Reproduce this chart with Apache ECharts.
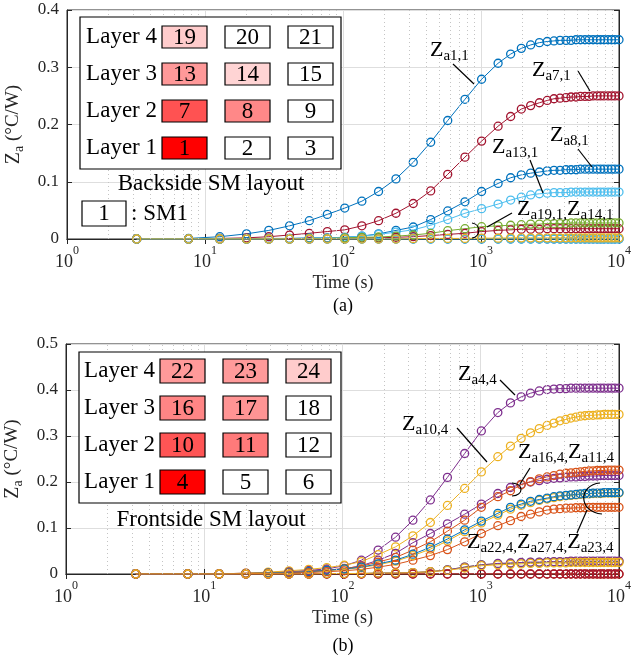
<!DOCTYPE html>
<html>
<head>
<meta charset="utf-8">
<script src="https://cdn.jsdelivr.net/npm/echarts@6/dist/echarts.min.js"></script>
<style>
html, body { margin: 0; padding: 0; background: #fff; }
#dom { width: 631px; height: 662px; }
</style>
</head>
<body>
<div id="dom"></div>
<script>
// sample times (s)
var time = [3.2, 7.6, 12.8, 20, 29, 41, 57, 77, 103, 137, 181, 242, 323, 432, 574, 765, 1010,
  1330, 1640, 1960, 2290, 2650, 3020, 3380, 3740, 4130, 4490, 4880, 5260, 5670, 6070, 6490,
  6940, 7350, 7790, 8330, 8830, 9350, 10000];

// (a) backside SM1 heated
var za1_1 = [0, 0.001, 0.004, 0.009, 0.015, 0.023, 0.032, 0.043, 0.054, 0.066, 0.083, 0.105, 0.134, 0.169, 0.207, 0.244, 0.279,
  0.307, 0.323, 0.333, 0.339, 0.343, 0.345, 0.346, 0.347, 0.347, 0.347,
  0.348, 0.348, 0.348, 0.348, 0.348, 0.348, 0.348, 0.348, 0.348, 0.348, 0.348, 0.348];
var za7_1 = [0, 0, 0.001, 0.002, 0.004, 0.007, 0.010, 0.013, 0.016, 0.023, 0.032, 0.045, 0.062, 0.084, 0.113, 0.143, 0.171,
  0.197, 0.214, 0.227, 0.233, 0.238, 0.242, 0.245, 0.246, 0.247, 0.248, 0.248, 0.249, 0.249, 0.249,
  0.250, 0.250, 0.250, 0.250, 0.250, 0.250, 0.250, 0.250];
var za8_1 = [0, 0, 0, 0, 0.001, 0.001, 0.002, 0.002, 0.003, 0.005, 0.009, 0.015, 0.021, 0.034, 0.049, 0.065, 0.083,
  0.097, 0.107, 0.112, 0.115, 0.117, 0.119, 0.120, 0.120, 0.121, 0.121, 0.121,
  0.122, 0.122, 0.122, 0.122, 0.122, 0.122, 0.122, 0.122, 0.122, 0.122, 0.122];
var za13_1 = [0, 0, 0, 0, 0, 0.001, 0.001, 0.002, 0.003, 0.005, 0.008, 0.012, 0.016, 0.024, 0.034, 0.045, 0.053,
  0.061, 0.068, 0.073, 0.077, 0.079, 0.080, 0.081, 0.081, 0.081,
  0.082, 0.082, 0.082, 0.082, 0.082, 0.082, 0.082, 0.082, 0.082, 0.082, 0.082, 0.082, 0.082];
var za14_1 = [0, 0, 0, 0, 0, 0, 0, 0.001, 0.001, 0.002, 0.002, 0.003, 0.004, 0.006, 0.008, 0.010, 0.013,
  0.015, 0.016, 0.017, 0.017, 0.017, 0.018, 0.018, 0.018, 0.018, 0.018, 0.018, 0.018, 0.018, 0.018,
  0.018, 0.018, 0.018, 0.018, 0.018, 0.018, 0.018, 0.018];
var za19_1 = [0, 0, 0, 0, 0, 0, 0.001, 0.001, 0.002, 0.003, 0.0035, 0.005, 0.007, 0.010, 0.0145, 0.018, 0.0215,
  0.023, 0.024, 0.025, 0.026, 0.026, 0.027, 0.027, 0.027, 0.027,
  0.028, 0.028, 0.028, 0.028, 0.028, 0.028, 0.028, 0.028, 0.028, 0.028, 0.028, 0.028, 0.028];
var za24_1 = [0, 0, 0, 0, 0, 0, 0, 0, 0, 0, 0, 0, 0.0005, 0.001, 0.001, 0.001, 0.0015,
  0.0015, 0.002, 0.002, 0.002, 0.002, 0.002, 0.002, 0.002, 0.002, 0.002, 0.002, 0.002, 0.002, 0.002,
  0.002, 0.002, 0.002, 0.002, 0.002, 0.002, 0.002, 0.002];
var flat = [0, 0, 0, 0, 0, 0, 0, 0, 0, 0, 0, 0, 0, 0, 0, 0, 0, 0, 0, 0,
  0, 0, 0, 0, 0, 0, 0, 0, 0, 0, 0, 0, 0, 0, 0, 0, 0, 0, 0];

// (b) frontside SM4 heated
var za4_4 = [0, 0, 0, 0.002, 0.003, 0.005, 0.008, 0.011, 0.018, 0.030, 0.052, 0.080, 0.117, 0.161, 0.210, 0.262, 0.311,
  0.351, 0.372, 0.385, 0.393, 0.398, 0.401, 0.402, 0.403, 0.403,
  0.404, 0.404, 0.404, 0.404, 0.404, 0.404, 0.404, 0.404, 0.404, 0.404, 0.404, 0.404, 0.404];
var za10_4 = [0, 0, 0, 0.002, 0.004, 0.007, 0.010, 0.014, 0.019, 0.027, 0.042, 0.059, 0.083, 0.112, 0.149, 0.186, 0.222,
  0.255, 0.278, 0.295, 0.307, 0.316, 0.323, 0.328, 0.333, 0.336, 0.339, 0.341, 0.343, 0.344, 0.345, 0.345, 0.346, 0.346,
  0.347, 0.347, 0.347, 0.347, 0.347];
var za11_4 = [0, 0, 0, 0.001, 0.002, 0.004, 0.006, 0.009, 0.011, 0.018, 0.030, 0.045, 0.068, 0.088, 0.109, 0.130, 0.152,
  0.175, 0.188, 0.195, 0.200, 0.203, 0.206, 0.208, 0.209, 0.210, 0.211, 0.211, 0.212, 0.212, 0.213, 0.213, 0.213,
  0.214, 0.214, 0.214, 0.214, 0.214, 0.214];
var za12_4 = [0, 0, 0, 0, 0, 0, 0, 0.001, 0.001, 0.001, 0.002, 0.002, 0.003, 0.005, 0.009, 0.015, 0.020,
  0.022, 0.023, 0.024, 0.025, 0.025, 0.026, 0.026, 0.026, 0.026,
  0.027, 0.027, 0.027, 0.027, 0.027, 0.027, 0.027, 0.027, 0.027, 0.027, 0.027, 0.027, 0.027];
var za16_4 = [0, 0, 0, 0.001, 0.002, 0.003, 0.005, 0.008, 0.012, 0.017, 0.026, 0.036, 0.052, 0.070, 0.093, 0.117, 0.145,
  0.168, 0.181, 0.194, 0.201, 0.207, 0.211, 0.214, 0.217, 0.219, 0.220, 0.221, 0.222, 0.223, 0.224, 0.224,
  0.225, 0.225, 0.225, 0.226, 0.226, 0.226, 0.226];
var za17_4 = [0, 0, 0, 0.001, 0.002, 0.003, 0.005, 0.007, 0.010, 0.014, 0.020, 0.028, 0.040, 0.054, 0.072, 0.092, 0.111,
  0.128, 0.141, 0.149, 0.155, 0.160, 0.163, 0.166, 0.168, 0.170, 0.171, 0.172, 0.173, 0.174, 0.174, 0.175,
  0.175, 0.175, 0.176, 0.176, 0.176, 0.176, 0.176];
var za18_4 = [0, 0, 0, 0, 0, 0, 0, 0.001, 0.001, 0.001, 0.002, 0.002, 0.003, 0.005, 0.009, 0.015, 0.020,
  0.023, 0.024, 0.025, 0.026, 0.026, 0.027, 0.027, 0.027, 0.027,
  0.028, 0.028, 0.028, 0.028, 0.028, 0.028, 0.028, 0.028, 0.028, 0.028, 0.028, 0.028, 0.028];
var za22_4 = [0, 0, 0, 0.001, 0.002, 0.003, 0.005, 0.008, 0.011, 0.015, 0.022, 0.030, 0.043, 0.058, 0.076, 0.096, 0.115,
  0.132, 0.145, 0.152, 0.158, 0.162, 0.165, 0.168, 0.170, 0.171, 0.172, 0.173, 0.174, 0.175, 0.175, 0.176,
  0.176, 0.176, 0.177, 0.177, 0.177, 0.177, 0.177];
var za23_4 = [0, 0, 0, 0.001, 0.001, 0.002, 0.003, 0.005, 0.007, 0.010, 0.015, 0.021, 0.030, 0.040, 0.053, 0.070, 0.088,
  0.105, 0.116, 0.125, 0.130, 0.135, 0.139, 0.141, 0.142, 0.143, 0.143, 0.144, 0.144, 0.144,
  0.145, 0.145, 0.145, 0.145, 0.145, 0.145, 0.145, 0.145, 0.145];
var za24_4 = [0, 0, 0, 0, 0, 0, 0, 0.001, 0.001, 0.001, 0.002, 0.002, 0.003, 0.005, 0.008, 0.013, 0.018,
  0.020, 0.021, 0.022, 0.023, 0.023, 0.024, 0.024, 0.024, 0.024,
  0.025, 0.025, 0.025, 0.025, 0.025, 0.025, 0.025, 0.025, 0.025, 0.025, 0.025, 0.025, 0.025];

// SM layout insets
var layers = ["Layer 4", "Layer 3", "Layer 2", "Layer 1"];
var backCells = [[19, 20, 21], [13, 14, 15], [7, 8, 9], [1, 2, 3]];
var backShade = [["#FFCCCC", "#fff", "#fff"], ["#FF9999", "#FFD4D4", "#fff"], ["#FF5252", "#FF8888", "#fff"], ["#FF0000", "#fff", "#fff"]];
var frontCells = [[22, 23, 24], [16, 17, 18], [10, 11, 12], [4, 5, 6]];
var frontShade = [["#FF9A9A", "#FF9A9A", "#FFCCCC"], ["#FF8585", "#FF9494", "#fff"], ["#FF5555", "#FF7A7A", "#fff"], ["#FF0000", "#fff", "#fff"]];

var F = "Liberation Serif";
var INK = "#262626";
var C = { blue: "#0072BD", orange: "#D95319", yellow: "#EDB120", purple: "#7E2F8E", green: "#77AC30", cyan: "#4DBEEE", wine: "#A2142F" };

// minor log grid positions
var minorX = [];
[1, 10, 100, 1000].forEach(function (d) {
  for (var k = 2; k <= 9; k++) minorX.push(k * d);
});

function curve(name, color, values, g) {
  return {
    name: name,
    type: "line",
    xAxisIndex: g,
    yAxisIndex: g,
    data: time.map(function (t, i) { return [t, values[i]]; }),
    symbol: "circle",
    symbolSize: 8,
    lineStyle: { color: color, width: 1 },
    itemStyle: { color: "rgba(255,255,255,0)", borderColor: color, borderWidth: 1.3 },
    silent: true
  };
}

function minorGrid(s) {
  s.markLine = {
    silent: true,
    symbol: ["none", "none"],
    label: { show: false },
    lineStyle: { type: [1, 3], color: "#c4c4c4", width: 1 },
    data: minorX.map(function (v) { return { xAxis: v }; })
  };
  return s;
}

var expRich = {
  b: { fontFamily: F, fontSize: 18, color: INK, lineHeight: 26, verticalAlign: "bottom" },
  e: { fontFamily: F, fontSize: 12, color: INK, lineHeight: 12, verticalAlign: "top" }
};

function xAxes(g) {
  return [{
    type: "log", logBase: 10, min: 1, max: 10000, gridIndex: g,
    axisLine: { lineStyle: { color: INK } },
    axisTick: { inside: true, length: 5, lineStyle: { color: INK } },
    splitLine: { show: true, lineStyle: { color: "#dedede" } },
    axisLabel: {
      margin: 6,
      formatter: function (v) { return "{b|10}{e|" + Math.round(Math.log10(v)) + "}"; },
      rich: expRich
    },
    name: "Time (s)", nameLocation: "middle", nameGap: 35,
    nameTextStyle: { fontFamily: F, fontSize: 18, color: INK }
  }, {
    type: "log", logBase: 10, min: 1, max: 10000, gridIndex: g, position: "top",
    axisLine: { lineStyle: { color: INK } },
    axisTick: { inside: true, length: 5, lineStyle: { color: INK } },
    axisLabel: { show: false }, splitLine: { show: false }
  }];
}

function yAxes(g, top) {
  return [{
    type: "value", min: 0, max: top, interval: 0.1, gridIndex: g,
    axisLine: { show: true, lineStyle: { color: INK } },
    axisTick: { show: true, inside: true, length: 5, lineStyle: { color: INK } },
    splitLine: { show: true, lineStyle: { color: "#dedede" } },
    axisLabel: {
      margin: 8, fontFamily: F, fontSize: 17, color: INK,
      formatter: function (v) { return v === 0 ? "0" : v.toFixed(1); }
    },
    name: "{z|Z}{s|a}{u| (°C/W)}", nameLocation: "middle", nameGap: 33, nameRotate: 90,
    nameTextStyle: {
      rich: {
        z: { fontFamily: F, fontSize: 20, color: INK, lineHeight: 20, verticalAlign: "top" },
        s: { fontFamily: F, fontSize: 14, color: INK, lineHeight: 30 },
        u: { fontFamily: F, fontSize: 19, color: INK, lineHeight: 20, verticalAlign: "top" }
      }
    }
  }, {
    type: "value", min: 0, max: top, interval: 0.1, gridIndex: g, position: "right",
    axisLine: { show: true, lineStyle: { color: INK } },
    axisTick: { show: true, inside: true, length: 5, lineStyle: { color: INK } },
    axisLabel: { show: false }, splitLine: { show: false }
  }];
}

// annotation helpers
var zRich = {
  z: { fontFamily: F, fontSize: 22, fill: "#000", lineHeight: 22, verticalAlign: "top" },
  s: { fontFamily: F, fontSize: 15, fill: "#000", lineHeight: 34 }
};
function zText(x, y, subs) {
  var txt = subs.map(function (s) { return "{z|Z}{s|" + s + "}"; }).join("{s|,}");
  return { type: "text", x: x, y: y, z: 30, silent: true,
    style: { text: txt, rich: zRich, verticalAlign: "top", textVerticalAlign: "top" } };
}
function lead(x1, y1, x2, y2) {
  return { type: "line", z: 30, silent: true, shape: { x1: x1, y1: y1, x2: x2, y2: y2 },
    style: { stroke: "#000", lineWidth: 1.2 } };
}
function brace(x1, y1, cx1, cy1, cx2, cy2, x2, y2) {
  return { type: "bezierCurve", z: 30, silent: true,
    shape: { x1: x1, y1: y1, cpx1: cx1, cpy1: cy1, cpx2: cx2, cpy2: cy2, x2: x2, y2: y2 },
    style: { stroke: "#000", fill: null, lineWidth: 1.2 } };
}
function txt(x, y, s, size, align) {
  return { type: "text", x: x, y: y, z: 30, silent: true,
    style: { text: s, fontFamily: F, fontSize: size, fill: "#000",
      align: align || "center", textAlign: align || "center", verticalAlign: "middle", textVerticalAlign: "middle" } };
}
function box(x, y, w, h, fill) {
  return { type: "rect", z: 25, silent: true, shape: { x: x, y: y, width: w, height: h },
    style: { fill: fill, stroke: "#000", lineWidth: 1.2 } };
}

function inset(ox, oy, ow, oh, labelX, cellX, rowY, cellH, cells, shade) {
  var els = [box(ox, oy, ow, oh, "#fff")];
  layers.forEach(function (name, r) {
    els.push(txt(labelX, rowY[r], name, 23, "right"));
    cells[r].forEach(function (n, c) {
      els.push(box(cellX[c], rowY[r] - cellH / 2, 45, cellH, shade[r][c]));
      els.push(txt(cellX[c] + 22.5, rowY[r] + 1, String(n), 23));
    });
  });
  return els;
}

var graphics = []
  .concat(inset(80, 17, 261, 152, 157, [162, 225, 288], [37, 74, 111, 148], 22, backCells, backShade))
  .concat(inset(79, 352, 262, 151, 155, [160, 223, 286], [371, 408, 445, 482], 24, frontCells, frontShade))
  .concat([
    txt(211, 184, "Backside SM layout", 23),
    box(82, 201, 44, 25, "#fff"),
    txt(104, 214, "1", 23),
    txt(131, 214, ": SM1", 23, "left"),
    txt(211, 520, "Frontside SM layout", 23),
    txt(343, 306, "(a)", 18),
    txt(343, 646, "(b)", 18),
    // (a) labels
    zText(430, 39, ["a1,1"]), lead(453, 64, 474, 84),
    zText(532, 59, ["a7,1"]), lead(578, 71, 590, 91),
    zText(550, 124, ["a8,1"]), lead(578, 149, 592, 167),
    zText(492, 136, ["a13,1"]), lead(530, 160, 543, 193),
    zText(517, 198, ["a19,1", "a14,1"]), lead(512, 213, 487, 227),
    brace(472, 223, 481, 224, 481, 237, 472, 238),
    // (b) labels
    zText(458, 363, ["a4,4"]), lead(500, 380, 515, 395),
    zText(402, 413, ["a10,4"]), lead(457, 428, 487, 462),
    zText(518, 441, ["a16,4", "a11,4"]), lead(530, 468, 520, 484),
    brace(512, 483, 524, 484, 524, 495, 512, 496),
    zText(467, 531, ["a22,4", "a27,4", "a23,4"]), lead(577, 533, 587, 510),
    brace(600, 483, 578, 485, 578, 512, 602, 514)
  ]);

var seriesA = [
  minorGrid(curve("Za1,1", C.blue, za1_1, 0)),
  curve("Za7,1", C.wine, za7_1, 0),
  curve("Za8,1", C.blue, za8_1, 0),
  curve("Za13,1", C.cyan, za13_1, 0),
  curve("Za14,1", C.wine, za14_1, 0),
  curve("Za15,1", C.blue, flat, 0),
  curve("Za19,1", C.green, za19_1, 0),
  curve("Za20,1", C.cyan, flat, 0),
  curve("Za24,1", C.yellow, za24_1, 0)
];
var seriesB = [
  minorGrid(curve("Za4,4", C.purple, za4_4, 1)),
  curve("Za9,4", C.orange, flat, 1),
  curve("Za10,4", C.yellow, za10_4, 1),
  curve("Za11,4", C.purple, za11_4, 1),
  curve("Za12,4", C.green, za12_4, 1),
  curve("Za16,4", C.orange, za16_4, 1),
  curve("Za17,4", C.yellow, za17_4, 1),
  curve("Za18,4", C.purple, za18_4, 1),
  curve("Za21,4", C.wine, flat, 1),
  curve("Za22,4", C.blue, za22_4, 1),
  curve("Za23,4", C.orange, za23_4, 1),
  curve("Za24,4", C.yellow, za24_4, 1)
];
// top axes (index 1 / 3) carry no series
seriesB.forEach(function (s) { s.xAxisIndex = 2; s.yAxisIndex = 2; });

var xa = xAxes(0), xb = xAxes(1);
var ya = yAxes(0, 0.4), yb = yAxes(1, 0.5);

var option = {
  animation: false,
  backgroundColor: "#fff",
  grid: [
    { left: 67, top: 10, width: 552, height: 229, show: true, borderColor: INK, borderWidth: 1,
      containLabel: false, outerBoundsMode: "none" },
    { left: 66, top: 344, width: 553, height: 230, show: true, borderColor: INK, borderWidth: 1,
      containLabel: false, outerBoundsMode: "none" }
  ],
  xAxis: [xa[0], xa[1], xb[0], xb[1]],
  yAxis: [ya[0], ya[1], yb[0], yb[1]],
  series: seriesA.concat(seriesB),
  graphic: { elements: graphics }
};

var chart = echarts.init(document.getElementById("dom"));
chart.setOption(option);
</script>
</body>
</html>
